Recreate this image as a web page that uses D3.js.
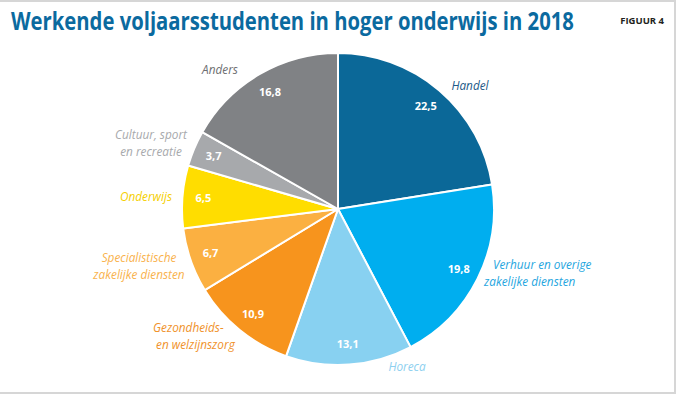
<!DOCTYPE html>
<html>
<head>
<meta charset="utf-8">
<script src="https://cdn.jsdelivr.net/npm/d3@7"></script>
<style>
  body { margin: 0; background: #fff; }
  svg { display: block; font-family: "Open Sans", "Noto Sans", sans-serif; }
</style>
</head>
<body>
<div id="chart"></div>
<script>

// data: share of working full-year students per sector (%)
var categories = ["Handel", "Verhuur en overige\nzakelijke diensten", "Horeca",
	"Gezondheids-\nen welzijnszorg", "Specialistische\nzakelijke diensten",
	"Onderwijs", "Cultuur, sport\nen recreatie", "Anders"];
var values = [22.5, 19.8, 13.1, 10.9, 6.7, 6.5, 3.7, 16.8];
var sliceColors = ["#0b6898", "#00aeef", "#88d1f1", "#f7941d", "#fbb041", "#ffdd00", "#a7a9ac", "#808285"];
var labelColors = ["#1d5a88", "#1fa6e0", "#8dd0ef", "#f0922b", "#f9b24d", "#f5cf00", "#a7a9ac", "#6d6e71"];

// where the category names sit (layout only)
var labelLayout = [
	{x: 470, y: 90, anchor: "middle", dx: [0]},
	{x: 484, y: 269, anchor: "start", dx: [9, 0]},
	{x: 407, y: 371, anchor: "middle", dx: [0]},
	{x: 153, y: 332, anchor: "start", dx: [0, 3]},
	{x: 139, y: 262, anchor: "middle", dx: [0, 0]},
	{x: 146, y: 201, anchor: "middle", dx: [0]},
	{x: 151, y: 139, anchor: "middle", dx: [0, 0]},
	{x: 220, y: 74, anchor: "middle", dx: [0]}
];

var width = 677,
	height = 397,
	cx = 338,
	cy = 209,
	radius = 156;

var svg = d3.select("#chart").append("svg")
	.attr("width", width)
	.attr("height", height);

// frame lines
svg.append("line").attr("x1", 0).attr("x2", 676).attr("y1", 1).attr("y2", 1)
	.style("stroke", "#d6d6d6").style("stroke-width", 2);
svg.append("line").attr("x1", 675).attr("x2", 675).attr("y1", 0).attr("y2", 394)
	.style("stroke", "#d6d6d6").style("stroke-width", 2);
svg.append("line").attr("x1", 0).attr("x2", 676).attr("y1", 393).attr("y2", 393)
	.style("stroke", "#d6d6d6").style("stroke-width", 2);

// title, squeezed horizontally to the width of the condensed original
var title = svg.append("text")
	.attr("x", 0)
	.attr("y", 0)
	.style("font-size", "25px")
	.style("font-weight", "bold")
	.style("fill", "#0b6a9f")
	.text("Werkende voljaarsstudenten in hoger onderwijs in 2018");

var titleLen = title.node().getComputedTextLength();
title.attr("transform", "translate(11,30) scale(" + (563 / titleLen) + ",1)");

svg.append("text")
	.attr("x", 664)
	.attr("y", 24)
	.attr("text-anchor", "end")
	.style("font-size", "9.5px")
	.style("font-weight", "bold")
	.style("fill", "#231f20")
	.text("FIGUUR 4");

var pie = d3.pie().sort(null).value(function(d){ return d; });
var arcs = pie(values);

var arc = d3.arc().innerRadius(0).outerRadius(radius);
var labelArc = d3.arc().innerRadius(135).outerRadius(135);

var g = svg.append("g")
	.attr("transform", "translate(" + cx + "," + cy + ")");

g.selectAll(".slice")
	.data(arcs)
	.enter()
	.append("path")
	.attr("class", "slice")
	.attr("d", arc)
	.style("fill", function(d, i){ return sliceColors[i]; })
	.style("stroke", "#fff")
	.style("stroke-width", "2px")
	.style("stroke-linejoin", "round");

// values inside the slices
g.selectAll(".val")
	.data(arcs)
	.enter()
	.append("text")
	.attr("class", "val")
	.attr("transform", function(d){ return "translate(" + labelArc.centroid(d) + ")"; })
	.attr("text-anchor", "middle")
	.attr("dy", "0.35em")
	.style("font-size", "11px")
	.style("font-weight", "bold")
	.style("fill", "#fff")
	.text(function(d){ return d3.format(".1f")(d.data).replace(".", ","); });

// category names
var names = svg.selectAll(".name")
	.data(categories)
	.enter()
	.append("text")
	.attr("class", "name")
	.attr("text-anchor", function(d, i){ return labelLayout[i].anchor; })
	.style("font-size", "11.8px")
	.style("font-style", "italic")
	.style("fill", function(d, i){ return labelColors[i]; });

names.each(function(d, i){
	var lay = labelLayout[i];
	d3.select(this).selectAll("tspan")
		.data(d.split("\n"))
		.enter()
		.append("tspan")
		.attr("x", function(l, j){ return lay.x + lay.dx[j]; })
		.attr("y", function(l, j){ return lay.y + j * 16.5; })
		.text(function(l){ return l; });
});

</script>
</body>
</html>
